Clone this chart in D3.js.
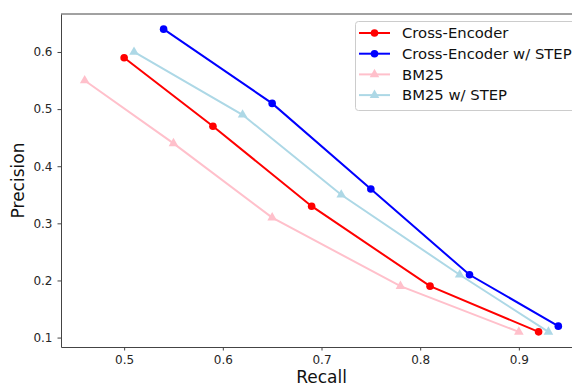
<!DOCTYPE html>
<html>
<head>
<meta charset="utf-8">
<script src="https://cdn.jsdelivr.net/npm/d3@7"></script>
<style>
  body { margin: 0; background: #fff; overflow: hidden; }
  svg { font-family: "DejaVu Sans", sans-serif; display: block; }
</style>
</head>
<body>
<div id="chart"></div>
<script>
const seriesNames = ['Cross-Encoder', 'Cross-Encoder w/ STEP', 'BM25', 'BM25 w/ STEP'];
const seriesColors = ['red', 'blue', 'pink', 'lightblue'];
const seriesMarkers = ['circle', 'circle', 'triangle', 'triangle'];

const crossEncoderRecall = [0.50, 0.59, 0.69, 0.81, 0.92];
const crossEncoderPrecision = [0.59, 0.47, 0.33, 0.19, 0.11];
const crossStepRecall = [0.54, 0.65, 0.75, 0.85, 0.94];
const crossStepPrecision = [0.64, 0.51, 0.36, 0.21, 0.12];
const bm25Recall = [0.46, 0.55, 0.65, 0.78, 0.90];
const bm25Precision = [0.55, 0.44, 0.31, 0.19, 0.11];
const bm25StepRecall = [0.51, 0.62, 0.72, 0.84, 0.93];
const bm25StepPrecision = [0.60, 0.49, 0.35, 0.21, 0.11];

const xTicks = [0.5, 0.6, 0.7, 0.8, 0.9];
const yTicks = [0.1, 0.2, 0.3, 0.4, 0.5, 0.6];

const recalls = [crossEncoderRecall, crossStepRecall, bm25Recall, bm25StepRecall];
const precisions = [crossEncoderPrecision, crossStepPrecision, bm25Precision, bm25StepPrecision];

const series = seriesNames.map((name, i) => ({
  name,
  color: seriesColors[i],
  marker: seriesMarkers[i],
  points: recalls[i].map((r, j) => ({ x: r, y: precisions[i][j] }))
}));

const W = 572, H = 385;
const m = { left: 61, top: 14, right: 582, bottom: 347 };

const svg = d3.select('#chart').append('svg')
  .attr('width', W)
  .attr('height', H);

const x = d3.scaleLinear().domain([0.436, 0.964]).range([m.left, m.right]);
const y = d3.scaleLinear().domain([0.0835, 0.6665]).range([m.bottom, m.top]);

// axes
const xAxis = svg.append('g')
  .attr('transform', `translate(0,${m.bottom})`)
  .call(d3.axisBottom(x).tickValues(xTicks).tickFormat(d3.format('.1f')).tickSizeInner(3.5).tickSizeOuter(0).tickPadding(5));
const yAxis = svg.append('g')
  .attr('transform', `translate(${m.left},0)`)
  .call(d3.axisLeft(y).tickValues(yTicks).tickFormat(d3.format('.1f')).tickSizeInner(3.5).tickSizeOuter(0).tickPadding(5));

[xAxis, yAxis].forEach(a => {
  a.selectAll('text').attr('font-size', 12).attr('fill', '#262626').attr('font-family', '"DejaVu Sans", sans-serif');
  a.selectAll('line').attr('stroke', '#444');
  a.select('.domain').attr('stroke', '#444').attr('stroke-width', 1);
});

// top spine
svg.append('line')
  .attr('x1', m.left).attr('x2', m.right)
  .attr('y1', m.top).attr('y2', m.top)
  .attr('stroke', '#444');

// axis labels
svg.append('text')
  .attr('x', (m.left + m.right) / 2)
  .attr('y', 383)
  .attr('text-anchor', 'middle')
  .attr('font-size', 17)
  .attr('fill', '#111')
  .text('Recall');

svg.append('text')
  .attr('transform', `translate(24,${(m.top + m.bottom) / 2}) rotate(-90)`)
  .attr('text-anchor', 'middle')
  .attr('font-size', 17)
  .attr('fill', '#111')
  .text('Precision');

const line = d3.line().x(d => x(d.x)).y(d => y(d.y));
const triangle = d3.symbol().type(d3.symbolTriangle).size(40);

function drawMarker(g, marker, color, cx, cy) {
  if (marker === 'circle') {
    g.append('circle').attr('cx', cx).attr('cy', cy).attr('r', 3.8).attr('fill', color);
  } else {
    g.append('path').attr('d', triangle()).attr('transform', `translate(${cx},${cy})`).attr('fill', color);
  }
}

// lines + markers
series.forEach(s => {
  const g = svg.append('g');
  g.append('path')
    .datum(s.points)
    .attr('d', line)
    .attr('fill', 'none')
    .attr('stroke', s.color)
    .attr('stroke-width', 2);
  s.points.forEach(p => drawMarker(g, s.marker, s.color, x(p.x), y(p.y)));
});

// legend
const lg = svg.append('g');
lg.append('rect')
  .attr('x', 355.5).attr('y', 21.5)
  .attr('width', 240).attr('height', 89)
  .attr('rx', 3)
  .attr('fill', 'white').attr('fill-opacity', 0.8)
  .attr('stroke', '#ccc');

series.forEach((s, i) => {
  const cy = 33 + i * 20.7;
  lg.append('line')
    .attr('x1', 359).attr('x2', 390)
    .attr('y1', cy).attr('y2', cy)
    .attr('stroke', s.color).attr('stroke-width', 2);
  drawMarker(lg, s.marker, s.color, 374.5, cy);
  lg.append('text')
    .attr('x', 402).attr('y', cy)
    .attr('dy', '0.35em')
    .attr('font-size', 14.8)
    .attr('fill', '#111')
    .text(s.name);
});
</script>
</body>
</html>
